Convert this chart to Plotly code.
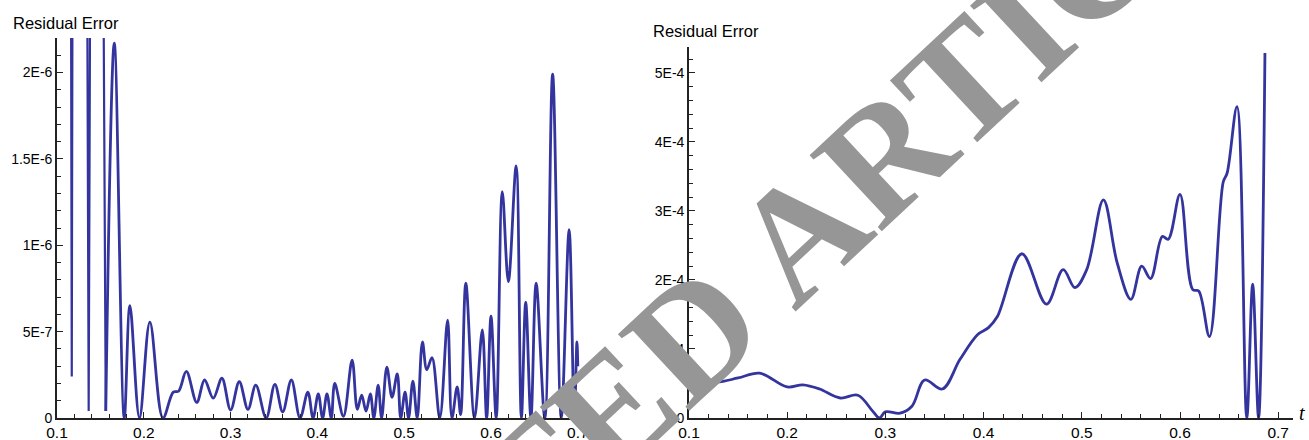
import plotly.graph_objects as go

# ---------------- data ----------------
left_t = [0.1000, 0.1160, 0.1170, 0.1180, 0.1345, 0.1365, 0.1385, 0.1530, 0.1562,
          0.1660, 0.1775, 0.1840, 0.1950, 0.2070, 0.2220, 0.2340, 0.2400, 0.2490,
          0.2610, 0.2700, 0.2800, 0.2900, 0.3000, 0.3100, 0.3200, 0.3290, 0.3410,
          0.3510, 0.3600, 0.3700, 0.3800, 0.3890, 0.3950, 0.4010, 0.4060, 0.4110,
          0.4160, 0.4200, 0.4300, 0.4400, 0.4460, 0.4510, 0.4560, 0.4610, 0.4650,
          0.4700, 0.4740, 0.4800, 0.4860, 0.4920, 0.4960, 0.5010, 0.5050, 0.5100,
          0.5150, 0.5210, 0.5260, 0.5320, 0.5410, 0.5500, 0.5550, 0.5610, 0.5650,
          0.5710, 0.5810, 0.5900, 0.5950, 0.6000, 0.6060, 0.6130, 0.6200, 0.6290,
          0.6350, 0.6400, 0.6460, 0.6520, 0.6620, 0.6710, 0.6810, 0.6900, 0.6960,
          0.6990, 0.7000]
left_v = [6.0e-6, 3.0e-6, 2.4e-7, 3.0e-6, 3.0e-6, 4.0e-8, 3.0e-6, 3.0e-6, 4.0e-8,
          2.17e-6, 0.0, 6.5e-7, 0.0, 5.55e-7, 0.0, 1.5e-7, 1.55e-7, 2.7e-7,
          9.0e-8, 2.2e-7, 1.15e-7, 2.3e-7, 4.6e-8, 2.1e-7, 5.0e-8, 1.9e-7, 0.0,
          1.95e-7, 3.5e-8, 2.2e-7, 0.0, 1.5e-7, 0.0, 1.4e-7, 0.0, 1.4e-7,
          0.0, 2.0e-7, 1.0e-8, 3.35e-7, 5.0e-8, 1.33e-7, 4.0e-8, 1.39e-7, 0.0,
          1.9e-7, 0.0, 2.95e-7, 1.2e-7, 2.55e-7, 0.0, 1.5e-7, 0.0, 2.14e-7,
          0.0, 4.4e-7, 2.8e-7, 3.5e-7, 0.0, 5.66e-7, 0.0, 1.8e-7, 2.0e-8,
          7.8e-7, 0.0, 5.1e-7, 0.0, 5.9e-7, 0.0, 1.31e-6, 7.9e-7, 1.46e-6,
          0.0, 6.7e-7, 0.0, 7.8e-7, 0.0, 1.99e-6, 0.0, 1.09e-6, 0.0,
          4.4e-7, 3.0e-7]
left_spike_count = 9   # first points: steep spikes drawn with straight segments

right_t = [0.100, 0.128, 0.150, 0.172, 0.200, 0.216, 0.233, 0.254, 0.272, 0.287,
           0.294, 0.300, 0.315, 0.327, 0.340, 0.358, 0.376, 0.394, 0.405, 0.414,
           0.439, 0.464, 0.481, 0.493, 0.505, 0.522, 0.536, 0.550, 0.561, 0.570,
           0.582, 0.588, 0.600, 0.613, 0.619, 0.630, 0.644, 0.648, 0.658, 0.668,
           0.674, 0.680, 0.6865]
right_v = [0.58e-4, 0.52e-4, 0.58e-4, 0.65e-4, 0.45e-4, 0.48e-4, 0.42e-4, 0.29e-4,
           0.33e-4, 0.10e-4, 0.0, 0.09e-4, 0.07e-4, 0.17e-4, 0.55e-4, 0.42e-4,
           0.85e-4, 1.21e-4, 1.31e-4, 1.47e-4, 2.38e-4, 1.65e-4, 2.15e-4, 1.89e-4,
           2.15e-4, 3.16e-4, 2.25e-4, 1.72e-4, 2.20e-4, 2.02e-4, 2.63e-4, 2.59e-4,
           3.24e-4, 1.86e-4, 1.84e-4, 1.18e-4, 3.42e-4, 3.55e-4, 4.51e-4, 0.0,
           1.94e-4, 0.0, 5.29e-4]

x_ticks = [0.1, 0.2, 0.3, 0.4, 0.5, 0.6, 0.7]
x_ticktext = ["0.1", "0.2", "0.3", "0.4", "0.5", "0.6", "0.7"]
left_yticks = [0, 5e-7, 1e-6, 1.5e-6, 2e-6]
left_yticktext = ["0", "5E-7", "1E-6", "1.5E-6", "2E-6"]
right_yticks = [0, 1e-4, 2e-4, 3e-4, 4e-4, 5e-4]
right_yticktext = ["0", "1E-4", "2E-4", "3E-4", "4E-4", "5E-4"]

title_text = "Residual Error"
watermark = "RETRACTED ARTICLE"

# ---------------- figure ----------------
W, H = 1309, 440
line_col = "rgb(52,52,158)"
axis_col = "#222222"
font_fam = "Liberation Sans, Arial, sans-serif"
serif = "Liberation Serif, Times New Roman, serif"

fig = go.Figure()
n = left_spike_count
fig.add_trace(go.Scatter(x=left_t[:n], y=left_v[:n], mode="lines", xaxis="x", yaxis="y",
                         line=dict(color=line_col, width=2.2, shape="linear"),
                         hoverinfo="skip", showlegend=False))
fig.add_trace(go.Scatter(x=left_t[n - 1:], y=left_v[n - 1:], mode="lines", xaxis="x", yaxis="y",
                         line=dict(color=line_col, width=2.8, shape="spline", smoothing=1.0),
                         hoverinfo="skip", showlegend=False))
fig.add_trace(go.Scatter(x=right_t, y=right_v, mode="lines", xaxis="x2", yaxis="y2",
                         line=dict(color=line_col, width=2.8, shape="spline", smoothing=1.0),
                         hoverinfo="skip", showlegend=False))


def px_x(p):
    return p / W


def px_y(p):
    return (H - p) / H


minor_common = dict(ticks="inside", ticklen=4, tickwidth=1.1, tickcolor=axis_col)
common_x = dict(showgrid=False, zeroline=False, showline=True, linecolor=axis_col, linewidth=1.6,
                ticks="inside", ticklen=6, tickwidth=1.3, tickcolor=axis_col, automargin=False,
                tickvals=x_ticks, ticktext=x_ticktext,
                tickfont=dict(family=font_fam, size=15.5, color="#000"),
                minor=dict(minor_common, tickmode="linear", tick0=0.1, dtick=0.02))
common_y = dict(showgrid=False, zeroline=False, showline=True, linecolor=axis_col, linewidth=1.6,
                ticks="inside", ticklen=6, tickwidth=1.3, tickcolor=axis_col, automargin=False,
                tickfont=dict(family=font_fam, size=14, color="#000"))

fig.update_layout(
    width=W, height=H, margin=dict(l=0, r=0, t=0, b=0, autoexpand=False),
    paper_bgcolor="white", plot_bgcolor="white",
    xaxis=dict(common_x, domain=[px_x(57), px_x(587)], range=[0.1, 0.1 + 530 / 868],
               anchor="y"),
    yaxis=dict(common_y, domain=[px_y(418), px_y(38)], range=[0, 2.2e-6], anchor="x",
               tickvals=left_yticks, ticktext=left_yticktext,
               minor=dict(minor_common, tickmode="linear", tick0=0, dtick=1e-7)),
    xaxis2=dict(common_x, domain=[px_x(689), px_x(1293)], range=[0.1, 0.1 + 604 / 982],
                anchor="y2"),
    yaxis2=dict(common_y, domain=[px_y(418), px_y(47)], range=[0, 5.376e-4], anchor="x2",
                tickvals=right_yticks, ticktext=right_yticktext,
                minor=dict(minor_common, tickmode="linear", tick0=0, dtick=2e-5)),
)

annotations = [
    dict(text=title_text, x=px_x(11), y=px_y(23), xref="paper", yref="paper",
         xanchor="left", yanchor="middle", showarrow=False,
         font=dict(family=font_fam, size=16.5, color="#000")),
    dict(text=title_text, x=px_x(651), y=px_y(31), xref="paper", yref="paper",
         xanchor="left", yanchor="middle", showarrow=False,
         font=dict(family=font_fam, size=16.5, color="#000")),
    dict(text="<i>t</i>", x=px_x(1302), y=px_y(413), xref="paper", yref="paper",
         xanchor="center", yanchor="middle", showarrow=False,
         font=dict(family=serif, size=20, color="#000")),
    dict(text="<b>" + watermark + "</b>", x=px_x(643), y=px_y(380), xref="paper", yref="paper",
         xanchor="center", yanchor="middle", showarrow=False, textangle=-43,
         font=dict(family=serif, size=160, color="rgb(150,150,150)")),
]
fig.update_layout(annotations=annotations)

fig.write_html("out.html", config={"displayModeBar": False},
               post_script="document.body.style.margin='0';")
